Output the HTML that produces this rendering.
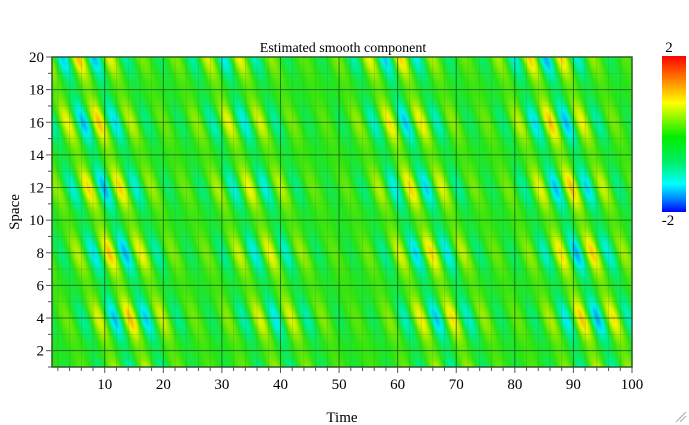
<!DOCTYPE html>
<html><head><style>
body{margin:0;background:#fff;width:689px;height:425px;overflow:hidden;position:relative;font-family:"Liberation Serif",serif;}
#c{position:absolute;left:52px;top:57px;width:580px;height:310px;}
#cb{position:absolute;left:662px;top:56px;width:24px;height:156px;background:linear-gradient(to bottom,#ff0000 0%,#ff9900 18%,#ffff00 30%,#00ee00 52%,#00ee66 68%,#00ffff 82%,#0080ff 92%,#0000ff 100%);}
svg{position:absolute;left:0;top:0;}
</style></head><body>
<canvas id="c" width="580" height="310"></canvas>
<div id="cb"></div>
<svg width="689" height="425" id="s" font-family="Liberation Serif, serif">
<text x="343" y="52" font-size="14" text-anchor="middle">Estimated smooth component</text>
<text x="342" y="422" font-size="15" text-anchor="middle">Time</text>
<text x="19" y="212" font-size="15" text-anchor="middle" transform="rotate(-90 19 212)">Space</text>
<text x="669" y="52" font-size="15" text-anchor="middle">2</text>
<text x="668" y="225" font-size="15" text-anchor="middle">-2</text>
<g id="g"></g>
</svg>
<script>
const cv=document.getElementById('c'),ctx=cv.getContext('2d');
const W=580,H=310;
function tx(t){return 52+(t-1)*(580/99);}
function sy(s){return 367-(s-1)*(310/19);}
function cmap(v){
 v=Math.max(-2,Math.min(2,v));
 const stops=[[-2,0,0,255],[-1.5,0,128,255],[-1,0,240,240],[-0.5,0,238,130],[0,40,228,20],[0.5,140,235,0],[1,245,245,0],[1.5,255,150,0],[2,255,0,0]];
 for(let i=0;i<stops.length-1;i++){const a=stops[i],b=stops[i+1];if(v<=b[0]){const f=(v-a[0])/(b[0]-a[0]);return [a[1]+(b[1]-a[1])*f,a[2]+(b[2]-a[2])*f,a[3]+(b[3]-a[3])*f];}}
 return [255,0,0];
}
const bursts=[[11,1.0,8],[36,0.75,8],[64,0.9,8],[90,1.0,8]];
const img=ctx.createImageData(W,H);
for(let y=0;y<H;y++){const s=20-y*19/H;
 for(let x=0;x<W;x++){const t=1+x*99/W;
  let env=0.15;
  for(const b of bursts){const d=(t-b[0]-(10-s)*0.5)/b[2];env+=b[1]*Math.exp(-d*d);}
  const sp=0.65+0.35*Math.cos(2*Math.PI*(s-4)/4);
  const v=env*sp*1.15*Math.sin(2*Math.PI*(t+0.9*s)/5.5);
  const c=cmap(v);const i=(y*W+x)*4;
  img.data[i]=c[0];img.data[i+1]=c[1];img.data[i+2]=c[2];img.data[i+3]=255;}}
ctx.putImageData(img,0,0);
let h='';
for(let t=2;t<=100;t+=2){const X=tx(t);const maj=t%10==0;
 h+=`<line x1="${X}" y1="57" x2="${X}" y2="367" stroke="${maj?'#1a5a1a':'#3a9a3a'}" stroke-width="${maj?1:0.5}" opacity="${maj?0.8:0.5}"/>`;
 h+=`<line x1="${X}" y1="367" x2="${X}" y2="${maj?373:371}" stroke="#555"/>`;
 if(maj)h+=`<text x="${X}" y="389" font-size="15" text-anchor="middle">${t}</text>`;}
for(let s=1;s<=20;s++){const Y=sy(s);const maj=s%2==0;
 h+=`<line x1="52" y1="${Y}" x2="632" y2="${Y}" stroke="${maj?'#1a5a1a':'#3a9a3a'}" stroke-width="${maj?1:0.5}" opacity="${maj?0.8:0.5}"/>`;
 h+=`<line x1="${maj?46:48}" y1="${Y}" x2="52" y2="${Y}" stroke="#555"/>`;
 if(maj)h+=`<text x="44" y="${Y+5}" font-size="15" text-anchor="end">${s}</text>`;}
h+=`<rect x="52" y="57" width="580" height="310" fill="none" stroke="#2a5a2a" stroke-width="1.5"/>`;
h+=`<line x1="676" y1="422" x2="686" y2="412" stroke="#aaa"/><line x1="680" y1="422" x2="686" y2="416" stroke="#aaa"/>`;
document.getElementById('g').innerHTML=h;
</script>
</body></html>
